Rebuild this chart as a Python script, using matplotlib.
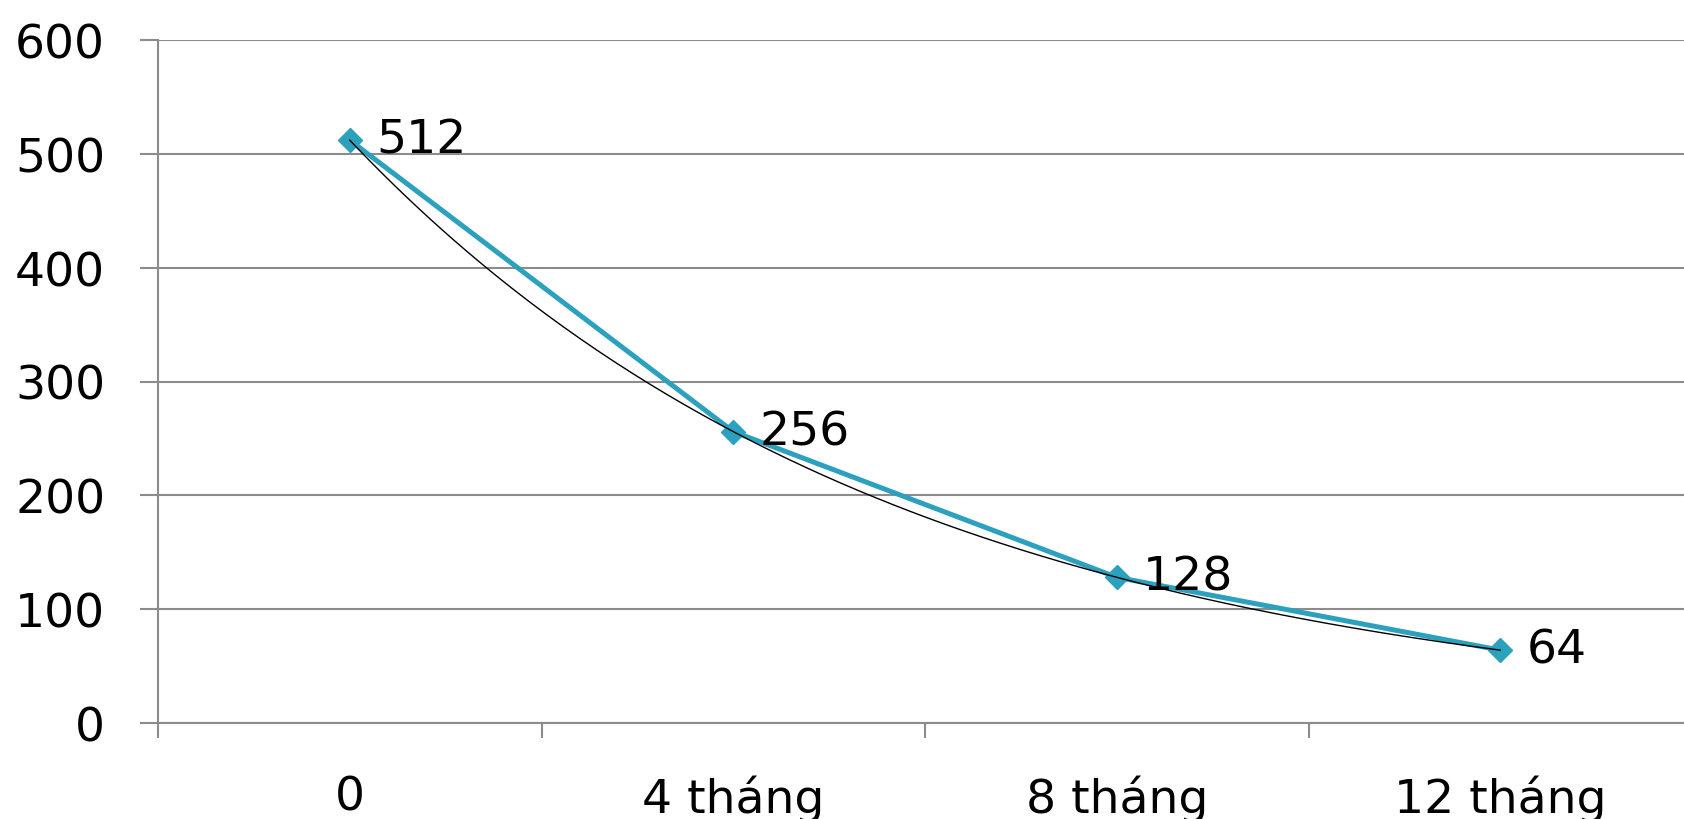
import numpy as np
import matplotlib
matplotlib.use("Agg")
import matplotlib.pyplot as plt

categories = ["0", "4 tháng", "8 tháng", "12 tháng"]
values = [512, 256, 128, 64]
y_ticks = [0, 100, 200, 300, 400, 500, 600]

plt.rcParams['font.family'] = ['DejaVu Sans']
fig = plt.figure(figsize=(16.84, 8.2), dpi=100)
ax = fig.add_axes([158/1684, 1-724/820, 1534/1684, (724-41)/820])

x = np.arange(len(values))
teal = '#2CA1BE'
grid = '#8C8C8C'
fs = 34

# exponential trendline
b, a = np.polyfit(x, np.log(values), 1)
xs = np.linspace(0, len(values)-1, 200)
ax.plot(x, values, color=teal, lw=3.6, marker='D', markersize=12, zorder=3)
ax.plot(xs, np.exp(a + b*xs), color='black', lw=1.0, zorder=4)

for xi, v in zip(x, values):
    ax.annotate(str(v), (xi, v), xytext=(19, 0), textcoords='offset points',
                ha='left', va='center', fontsize=fs, zorder=5)

ax.set_xlim(-0.5, len(values)-0.5)
ax.set_ylim(0, 600)
ax.set_yticks(y_ticks)
ax.set_yticklabels([str(t) for t in y_ticks], fontsize=fs)
ax.yaxis.grid(True, color=grid, lw=1.5)
ax.set_axisbelow(True)

ax.set_xticks(np.arange(-0.5, len(values), 1.0))
ax.set_xticklabels([])
ax.set_xticks(x, minor=True)
ax.set_xticklabels(categories, minor=True, fontsize=fs)
ax.tick_params(axis='x', which='major', length=11, width=1.5, color=grid)
ax.tick_params(axis='x', which='minor', length=0, pad=37)
ax.tick_params(axis='y', length=13, width=1.5, color=grid, pad=25)

for s in ['top', 'right']:
    ax.spines[s].set_visible(False)
for s in ['left', 'bottom']:
    ax.spines[s].set_color(grid)
    ax.spines[s].set_linewidth(1.5)

fig.savefig('out.png', dpi=100)
